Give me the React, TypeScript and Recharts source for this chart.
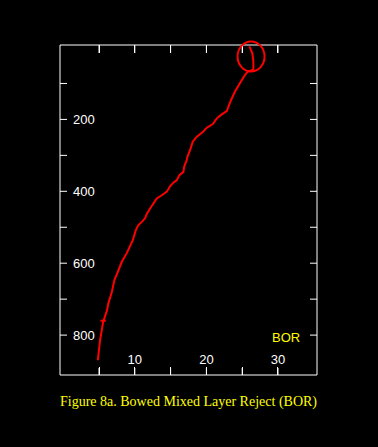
import { LineChart, Line, XAxis, YAxis, ReferenceDot, ReferenceLine } from 'recharts';

// BOR profile (bottom of the profile first)
const pressure = [
  870, 814, 764, 730, 711, 680, 647, 624, 596, 572, 536, 508, 494, 485, 475, 462, 448, 434, 420, 411,
  401, 386, 376, 369, 355, 346, 332, 313, 304, 285, 262, 248, 235, 223, 213, 197, 186, 177, 165, 146,
  122, 99, 76, 67, 62, 39, 16, -3,
];
const bor = [
  4.83, 5.15, 5.57, 6.13, 6.31, 6.79, 7.15, 7.63, 8.18, 8.88, 9.72, 10.14, 10.5, 10.98, 11.44, 11.68,
  12.14, 12.6, 13.07, 13.77, 14.47, 14.93, 15.39, 15.87, 16.23, 16.79, 16.89, 17.26, 17.35, 17.72,
  18.1, 18.66, 19.5, 20.06, 20.9, 21.45, 22.15, 22.85, 23.07, 23.45, 24.0, 24.7, 25.4, 25.78, 26.56,
  26.56, 26.42, 26.0,
];

const xTicks = [5, 10, 15, 20, 25, 30];
const yTicks = [100, 200, 300, 400, 500, 600, 700, 800];
const xDomain = [-0.45, 35.45];
const yDomain = [-7, 911];
// length of the x tick marks, in y-axis units (~8px)
const xTickLen = 21;

// annotations
const circleAt = { x: 26.24, y: 25 };
const markP = 760;
const markX = [5.2, 5.95];

const data = pressure.map((p, i) => ({ p, bor: bor[i] }));

const RED = '#ff0000';
const FONT = '"Liberation Sans", Arial, sans-serif';

function BottomTick(props: any) {
  const v = props.payload.value;
  if (v % 10 !== 0) return <g />;
  return (
    <text x={props.x} y={props.y} textAnchor="middle" fill="#fff" fontSize={13} fontFamily={FONT}>
      {v}
    </text>
  );
}

function LeftTick(props: any) {
  const v = props.payload.value;
  if (v % 200 !== 0) return <g />;
  return (
    <text x={props.x} y={props.y} dy="0.355em" textAnchor="start" fill="#fff" fontSize={13} fontFamily={FONT}>
      {v}
    </text>
  );
}

const NoLabel = () => <g />;

function Ellipse(props: any) {
  return <ellipse cx={props.cx} cy={props.cy} rx={13.5} ry={15} fill="none" stroke={RED} strokeWidth={2} />;
}

export default function App() {
  return (
    <div style={{ position: 'relative', width: 378, height: 447, background: '#000' }}>
      <style>{'body{margin:0;background:#000}'}</style>
      <LineChart width={378} height={447} data={data} margin={{ top: 44, right: 61, bottom: 72, left: 60 }}>
        <XAxis
          dataKey="bor"
          type="number"
          domain={xDomain}
          ticks={xTicks}
          allowDataOverflow
          mirror
          tickSize={7}
          tickMargin={4}
          stroke="#fff"
          tickLine={{ stroke: '#fff' }}
          tick={BottomTick}
        />
        <XAxis
          xAxisId="top"
          orientation="top"
          dataKey="bor"
          type="number"
          domain={xDomain}
          ticks={xTicks}
          allowDataOverflow
          height={1}
          tickSize={-8}
          stroke="#fff"
          tickLine={{ stroke: '#fff' }}
          tick={NoLabel}
        />
        <YAxis
          dataKey="p"
          type="number"
          reversed
          domain={yDomain}
          ticks={yTicks}
          allowDataOverflow
          mirror
          tickSize={7}
          tickMargin={6}
          stroke="#fff"
          tickLine={{ stroke: '#fff' }}
          tick={LeftTick}
        />
        <YAxis
          yAxisId="right"
          orientation="right"
          dataKey="p"
          type="number"
          reversed
          domain={yDomain}
          ticks={yTicks}
          allowDataOverflow
          mirror
          tickSize={7}
          stroke="#fff"
          tickLine={{ stroke: '#fff' }}
          tick={NoLabel}
        />
        {xTicks.map((t) => (
          <ReferenceLine
            key={`b${t}`}
            segment={[
              { x: t, y: yDomain[1] },
              { x: t, y: yDomain[1] - xTickLen },
            ]}
            stroke="#fff"
            strokeWidth={1}
            shapeRendering="crispEdges"
          />
        ))}
        {xTicks.map((t) => (
          <ReferenceLine
            key={`t${t}`}
            segment={[
              { x: t, y: yDomain[0] },
              { x: t, y: yDomain[0] + xTickLen },
            ]}
            stroke="#fff"
            strokeWidth={1}
            shapeRendering="crispEdges"
          />
        ))}
        <Line
          dataKey="p"
          type="linear"
          stroke={RED}
          strokeWidth={2}
          dot={false}
          isAnimationActive={false}
        />
        <ReferenceLine
          segment={[
            { x: markX[0], y: markP },
            { x: markX[1], y: markP },
          ]}
          stroke={RED}
          strokeWidth={2}
        />
        <ReferenceDot x={circleAt.x} y={circleAt.y} shape={Ellipse} />
      </LineChart>
      <svg width={378} height={447} style={{ position: 'absolute', left: 0, top: 0, pointerEvents: 'none' }}>
        <text x={272} y={342} fill="#ffff00" fontSize={13} fontFamily={FONT}>
          BOR
        </text>
        <text x={188.5} y={406} textAnchor="middle" fill="#ffff00" fontSize={14} fontFamily='"Liberation Serif", "Times New Roman", serif'>
          Figure 8a. Bowed Mixed Layer Reject (BOR)
        </text>
      </svg>
    </div>
  );
}
